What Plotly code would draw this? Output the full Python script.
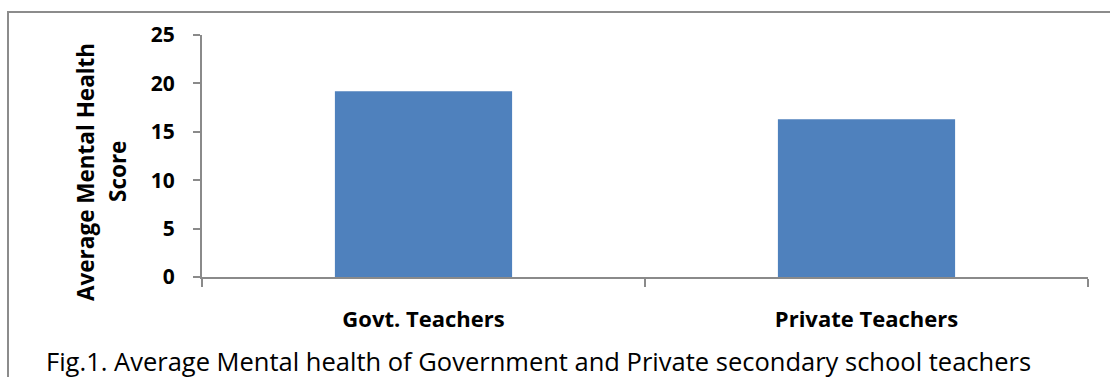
import plotly.graph_objects as go

categories = ["Govt. Teachers", "Private Teachers"]
scores = [19.2, 16.3]
y_ticks = [0, 5, 10, 15, 20, 25]
y_title_lines = ["Average Mental Health", "Score"]
caption = "Fig.1. Average Mental health of Government and Private secondary school teachers"

W, H = 1110, 377
L, R, T, B = 202, 22, 35, 100
pw, ph = W - L - R, H - T - B

def px_x(x):
    return (x - L) / pw

def px_y(y):
    return (H - B - y) / ph

FONT = "Open Sans"
AXC = "#8a8a8a"

fig = go.Figure(go.Bar(x=categories, y=scores, marker=dict(color="#4F81BD", line=dict(width=0)), width=0.4))

fig.update_layout(
    width=W, height=H,
    margin=dict(l=L, r=R, t=T, b=B, pad=0),
    paper_bgcolor="white", plot_bgcolor="white",
    showlegend=False,
    font=dict(family=FONT, color="black"),
)
fig.update_xaxes(
    showline=True, linecolor=AXC, linewidth=2,
    ticks="outside", tickson="boundaries", ticklen=8, tickcolor=AXC, tickwidth=2,
    tickfont=dict(family=FONT, size=22, color="black", weight="bold"),
    showgrid=False, zeroline=False, ticklabelstandoff=22,
)
fig.update_yaxes(
    range=[0, 25], tickvals=y_ticks, showline=True, linecolor=AXC, linewidth=2,
    ticks="outside", ticklen=7, tickcolor=AXC, tickwidth=2,
    tickfont=dict(family=FONT, size=21, color="black", weight="bold"),
    showgrid=False, zeroline=False, ticklabelstandoff=14,
)
for line_text, cx in zip(y_title_lines, [85, 117]):
    fig.add_annotation(
        text=line_text, textangle=-90, xref="paper", yref="paper",
        x=px_x(cx), y=px_y(172), showarrow=False, xanchor="center", yanchor="middle",
        font=dict(family=FONT, size=22.5, color="black", weight="bold"),
    )
fig.add_annotation(
    text=caption, xref="paper", yref="paper",
    x=px_x(44), y=px_y(361), showarrow=False, xanchor="left", yanchor="middle",
    font=dict(family=FONT, size=25.5, color="black"),
)
fig.add_shape(
    type="rect", xref="paper", yref="paper",
    x0=px_x(8), x1=px_x(1130), y0=px_y(12), y1=px_y(400),
    line=dict(color="#8c8c8c", width=2), fillcolor="rgba(0,0,0,0)", layer="below",
)
fig.write_html("out.html", config={"displayModeBar": False},
               post_script="document.body.style.margin='0';")
